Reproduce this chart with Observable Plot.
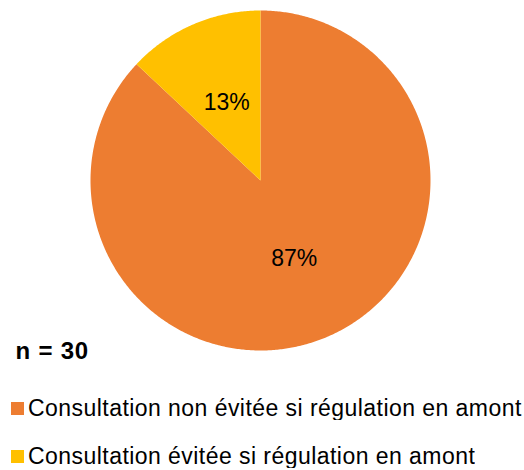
<!DOCTYPE html>
<html>
<head>
<meta charset="utf-8">
<script src="https://cdn.jsdelivr.net/npm/d3@7"></script>
<script src="https://cdn.jsdelivr.net/npm/@observablehq/plot@0.6"></script>
<style>
  body { margin: 0; background: #fff; font-family: "Liberation Sans", Arial, sans-serif; }
  #chart svg { display: block; }
  #chart g[font-weight="bold"] text { letter-spacing: 0.8px; }
  div.lg-swatches.lg-swatches-columns { margin: 26px 0 0 11px !important; }
  div.lg-swatches .lg-swatch { padding-bottom: 24px !important; line-height: 24px; letter-spacing: 0.45px; }
  div.lg-swatches .lg-swatch > svg { margin-right: 4px !important; }
</style>
</head>
<body>
<div id="chart"></div>
<script>
// Data
const categories = ["Consultation non évitée si régulation en amont", "Consultation évitée si régulation en amont"];
const shares = [87, 13];
const colors = ["#ED7D31", "#FFC000"];
const sampleSize = 30;

const data = categories.map((c, i) => ({label: c, value: shares[i]}));
const pie = d3.pie().sort(null).value(d => d.value)(data);

// slice outlines (center + arc) in unit-circle coordinates
const outline = [];
for (const a of pie) {
  outline.push({label: a.data.label, x: 0, y: 0});
  const n = Math.max(2, Math.ceil((a.endAngle - a.startAngle) / (Math.PI / 360)));
  for (let k = 0; k <= n; k++) {
    const t = a.startAngle + (a.endAngle - a.startAngle) * k / n;
    outline.push({label: a.data.label, x: Math.sin(t), y: Math.cos(t)});
  }
}
const labels = pie.map(a => {
  const m = (a.startAngle + a.endAngle) / 2;
  return {text: a.data.value + "%", x: 0.5 * Math.sin(m), y: 0.5 * Math.cos(m)};
});

const plot = Plot.plot({
  width: 524,
  height: 370,
  margin: 0,
  x: {domain: [-1, 1], range: [90, 430], axis: null},
  y: {domain: [-1, 1], range: [350, 10], axis: null},
  color: {domain: categories, range: colors},
  style: {fontFamily: "Liberation Sans, Arial, sans-serif", background: "white"},
  marks: [
    Plot.line(outline, {x: "x", y: "y", z: "label", fill: "label", stroke: "none", curve: "linear-closed"}),
    Plot.text(labels, {x: "x", y: "y", text: "text", fontSize: 23, fill: "#000"}),
    Plot.text([`n = ${sampleSize}`], {frameAnchor: "bottom-left", dx: 15, dy: -12, textAnchor: "start", lineAnchor: "bottom", fontSize: 24, fontWeight: "bold", fill: "#000"})
  ]
});
document.getElementById("chart").appendChild(plot);

const legend = Plot.legend({
  color: {domain: categories, range: colors},
  columns: 1,
  swatchSize: 13,
  className: "lg",
  style: {fontSize: "23px", fontFamily: "Liberation Sans, Arial, sans-serif", color: "#000"}
});
document.getElementById("chart").appendChild(legend);
</script>
</body>
</html>
